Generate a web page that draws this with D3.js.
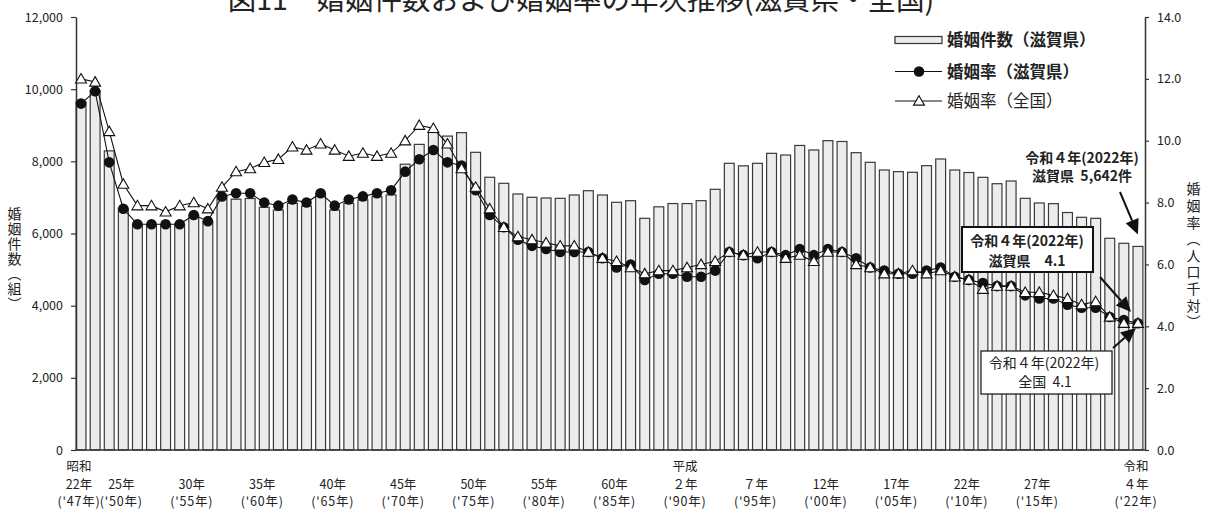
<!DOCTYPE html>
<html><head><meta charset="utf-8">
<script src="https://cdn.jsdelivr.net/npm/d3@7"></script>
<style>
body{margin:0;background:#fff}
svg{display:block}
text{font-family:"Noto Sans CJK JP","Noto Sans",sans-serif;fill:#222}
</style>
</head><body>
<svg id="c" width="1210" height="512"></svg>
<script>
const years = [1947,1948,1949,1950,1951,1952,1953,1954,1955,1956,
 1957,1958,1959,1960,1961,1962,1963,1964,1965,1966,
 1967,1968,1969,1970,1971,1972,1973,1974,1975,1976,
 1977,1978,1979,1980,1981,1982,1983,1984,1985,1986,
 1987,1988,1989,1990,1991,1992,1993,1994,1995,1996,
 1997,1998,1999,2000,2001,2002,2003,2004,2005,2006,
 2007,2008,2009,2010,2011,2012,2013,2014,2015,2016,
 2017,2018,2019,2020,2021,2022];
const shigaCount = [9650,9960,8290,6700,6260,6250,6250,6260,6510,6330,
 7020,6950,6970,6725,6650,6835,6760,7100,6650,6835,
 6930,7020,7070,7920,8470,8800,8700,8795,8250,7558,
 7391,7095,7003,6984,6975,7067,7186,7067,6865,6909,
 6421,6740,6830,6830,6910,7225,7945,7875,7945,8222,
 8175,8440,8314,8573,8550,8240,7973,7760,7714,7696,
 7880,8065,7760,7690,7557,7380,7455,6975,6846,6827,
 6582,6449,6421,5867,5728,5642];
const shigaRate = [11.2,11.6,9.3,7.8,7.3,7.3,7.3,7.3,7.6,7.4,
 8.2,8.3,8.3,8.0,7.9,8.1,8.0,8.3,7.9,8.1,
 8.2,8.3,8.4,9.0,9.4,9.7,9.3,9.2,8.4,7.6,
 7.2,6.8,6.6,6.5,6.4,6.4,6.4,6.2,5.9,6.0,
 5.5,5.7,5.7,5.6,5.6,5.8,6.4,6.3,6.2,6.4,
 6.3,6.5,6.3,6.5,6.4,6.2,5.9,5.8,5.7,5.7,
 5.8,5.9,5.6,5.5,5.4,5.3,5.3,5.0,4.9,4.9,
 4.7,4.6,4.6,4.3,4.2,4.1];
const nationalRate = [12.0,11.9,10.3,8.6,7.9,7.9,7.7,7.9,8.0,7.8,
 8.5,9.0,9.1,9.3,9.4,9.8,9.7,9.9,9.7,9.5,
 9.6,9.5,9.6,10.0,10.5,10.4,9.9,9.1,8.5,7.8,
 7.2,6.9,6.8,6.7,6.6,6.6,6.4,6.2,6.1,5.9,
 5.7,5.8,5.8,5.9,6.0,6.1,6.4,6.3,6.4,6.4,
 6.2,6.3,6.1,6.4,6.4,6.0,5.9,5.7,5.7,5.8,
 5.7,5.8,5.6,5.5,5.2,5.3,5.3,5.1,5.1,5.0,
 4.9,4.7,4.8,4.3,4.1,4.1];
const leftTicks = [0,2000,4000,6000,8000,10000,12000];
const rightTicks = [0,2,4,6,8,10,12,14];
const xLabelYears = [1947,1950,1955,1960,1965,1970,1975,1980,1985,1990,1995,2000,2005,2010,2015,2022];
const xLabelEra = ["昭和","","","","","","","","","平成","","","","","","令和"];
const xLabelJp = ["22年","25年","30年","35年","40年","45年","50年","55年","60年","２年","７年","12年","17年","22年","27年","４年"];
const xLabelWest = ["('47年)","('50年)","('55年)","('60年)","('65年)","('70年)","('75年)","('80年)","('85年)","('90年)","('95年)","('00年)","('05年)","('10年)","('15年)","('22年)"];
const title = "図11　婚姻件数および婚姻率の年次推移(滋賀県・全国)";
const legendLabels = ["婚姻件数（滋賀県）","婚姻率（滋賀県）","婚姻率（全国）"];
const leftTitle = "婚姻件数（組）";
const rightTitle = "婚姻率（人口千対）";

const svg = d3.select("#c");
const L = 76, R = 1145, T = 17, B = 450;
const x = d3.scaleBand().domain(years).range([74, R]).paddingInner(0.3).paddingOuter(0.15);
const yC = d3.scaleLinear().domain([0,12000]).range([B,T]);
const yR = d3.scaleLinear().domain([0,14]).range([B,T]);
const cx = d => x(d) + x.bandwidth()/2;

// title
svg.append("text").attr("x",581).attr("y",10).attr("text-anchor","middle")
  .style("font-size","28.5px").text(title);

// bars
svg.append("g").selectAll("rect").data(years).join("rect")
  .attr("x", d => x(d)).attr("width", x.bandwidth())
  .attr("y", (d,i) => yC(shigaCount[i])).attr("height", (d,i) => B - yC(shigaCount[i]))
  .attr("fill","#ececec").attr("stroke","#3a3a3a").attr("stroke-width",1.2);

// axes
const axL = svg.append("g").attr("transform",`translate(${L},0)`)
  .call(d3.axisLeft(yC).tickValues(leftTicks).tickSize(5).tickSizeOuter(0).tickPadding(8)
  .tickFormat(d3.format(",")));
const axR = svg.append("g").attr("transform",`translate(${R},0)`)
  .call(d3.axisRight(yR).tickValues(rightTicks).tickSize(4).tickSizeOuter(0).tickPadding(8)
  .tickFormat(d3.format(".1f")));
[axL, axR].forEach(a => {
  a.select(".domain").attr("stroke","#333").attr("stroke-width",1.5);
  a.selectAll(".tick line").attr("stroke","#333").attr("stroke-width",1.2);
  a.selectAll(".tick text").style("font-size","12.5px").attr("fill","#222")
    .style("font-family",'"Noto Sans CJK JP",sans-serif');
});
svg.append("line").attr("x1",L).attr("x2",R).attr("y1",B).attr("y2",B)
  .attr("stroke","#333").attr("stroke-width",1.6);

// lines
const lineS = d3.line().x((d,i)=>cx(years[i])).y(d=>yR(d));
svg.append("path").attr("d", lineS(shigaRate)).attr("fill","none").attr("stroke","#111").attr("stroke-width",1.1);
svg.append("g").selectAll("circle").data(shigaRate).join("circle")
  .attr("cx",(d,i)=>cx(years[i])).attr("cy",d=>yR(d)).attr("r",5.3).attr("fill","#111");
svg.append("path").attr("d", lineS(nationalRate)).attr("fill","none").attr("stroke","#111").attr("stroke-width",1.1);
const tri = d3.symbol().type(d3.symbolTriangle).size(52);
svg.append("g").selectAll("path").data(nationalRate).join("path")
  .attr("d", tri).attr("transform",(d,i)=>`translate(${cx(years[i])},${yR(d)+1})`)
  .attr("fill","#fff").attr("stroke","#111").attr("stroke-width",1.1);

// x labels
const xl = svg.append("g").style("font-size","12.5px");
xLabelYears.forEach((yr,i) => {
  const px = cx(yr) - 2;
  if (xLabelEra[i]) xl.append("text").attr("x",px).attr("y",467).attr("dy","0.35em").attr("text-anchor","middle").text(xLabelEra[i]);
  xl.append("text").attr("x",px).attr("y",485).attr("dy","0.35em").attr("text-anchor","middle").text(xLabelJp[i]);
  xl.append("text").attr("x",px).attr("y",502).attr("dy","0.35em").attr("text-anchor","middle")
    .style("letter-spacing","0.8px").text(xLabelWest[i]);
});

// axis titles (vertical)
svg.append("text").attr("x",14.5).attr("y",207).attr("writing-mode","vertical-rl")
  .style("font-size","14px").style("letter-spacing","1px").text(leftTitle);
svg.append("text").attr("x",1193.5).attr("y",182).attr("writing-mode","vertical-rl")
  .style("font-size","14px").style("letter-spacing","2.6px").text(rightTitle);

// legend
const lg = svg.append("g");
lg.append("rect").attr("x",895).attr("y",36.5).attr("width",47).attr("height",7)
  .attr("fill","#ececec").attr("stroke","#333").attr("stroke-width",1.2);
lg.append("line").attr("x1",895).attr("x2",942).attr("y1",71.5).attr("y2",71.5).attr("stroke","#111").attr("stroke-width",1.1);
lg.append("circle").attr("cx",919).attr("cy",71.5).attr("r",5.3).attr("fill","#111");
lg.append("line").attr("x1",895).attr("x2",942).attr("y1",101).attr("y2",101).attr("stroke","#111").attr("stroke-width",1.1);
lg.append("path").attr("d",tri).attr("transform","translate(919,102)").attr("fill","#fff").attr("stroke","#111").attr("stroke-width",1.1);
const lgY = [40.5,72,101];
legendLabels.forEach((t,i)=> lg.append("text").attr("x",947).attr("y",lgY[i]).attr("dy","0.35em")
  .style("font-size","16.5px").style("font-weight", i<2 ? "bold":"normal").text(t));

// annotations
function arrow(x1,y1,x2,y2,hl,hw){
  const a = Math.atan2(y2-y1,x2-x1);
  const bx = x2 - hl*Math.cos(a), by = y2 - hl*Math.sin(a);
  svg.append("line").attr("x1",x1).attr("y1",y1).attr("x2",bx).attr("y2",by).attr("stroke","#111").attr("stroke-width",2);
  const px = -Math.sin(a)*hw, py = Math.cos(a)*hw;
  svg.append("path").attr("d",`M${x2},${y2}L${bx+px},${by+py}L${bx-px},${by-py}Z`).attr("fill","#111");
}
const an = svg.append("g");
an.append("text").attr("x",1082).attr("y",158).attr("dy","0.35em").attr("text-anchor","middle")
  .style("font-size","14px").style("font-weight","bold").text("令和４年(2022年)");
an.append("text").attr("x",1082).attr("y",176).attr("dy","0.35em").attr("text-anchor","middle")
  .style("font-size","14px").style("font-weight","bold").text("滋賀県\u00a0\u00a05,642件");
arrow(1120,192, cx(2022), yC(shigaCount[75]) - 12, 15, 7);

an.append("rect").attr("x",962).attr("y",227).attr("width",131).attr("height",45)
  .attr("fill","#fff").attr("stroke","#111").attr("stroke-width",2);
an.append("text").attr("x",1027).attr("y",241).attr("dy","0.35em").attr("text-anchor","middle")
  .style("font-size","14px").style("font-weight","bold").text("令和４年(2022年)");
an.append("text").attr("x",1027).attr("y",261).attr("dy","0.35em").attr("text-anchor","middle")
  .style("font-size","14px").style("font-weight","bold").text("滋賀県　4.1");
arrow(1100,277, 1131,312, 15, 7);

an.append("rect").attr("x",981).attr("y",351).attr("width",131).attr("height",43)
  .attr("fill","#fff").attr("stroke","#111").attr("stroke-width",1.2);
an.append("text").attr("x",1044).attr("y",363.5).attr("dy","0.35em").attr("text-anchor","middle")
  .style("font-size","14px").text("令和４年(2022年)");
an.append("text").attr("x",1045).attr("y",382).attr("dy","0.35em").attr("text-anchor","middle")
  .style("font-size","14px").text("全国\u00a0\u00a04.1");
arrow(1113,348, 1136,328, 15, 7);
</script>
</body></html>
